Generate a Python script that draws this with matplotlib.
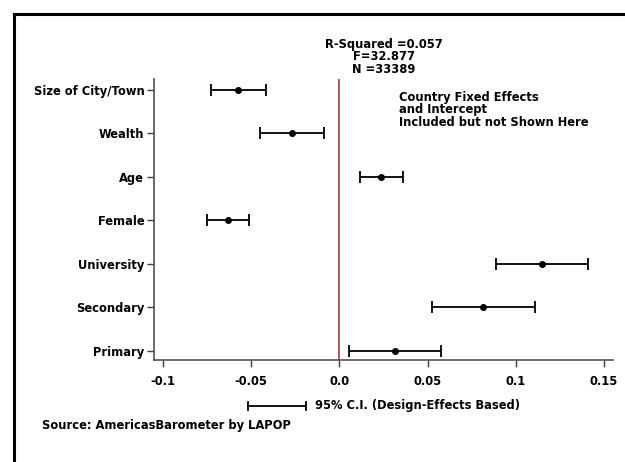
import numpy as np
import matplotlib
matplotlib.use("Agg")
import matplotlib.pyplot as plt
from matplotlib.lines import Line2D

plt.rcParams['font.family'] = ['DejaVu Sans']
plt.rcParams['font.weight'] = 'bold'

# coefficients and 95% CIs
labels = ['Primary', 'Secondary', 'University', 'Female', 'Age', 'Wealth', 'Size of City/Town']
coef = [0.0313, 0.0813, 0.1148, -0.0630, 0.0233, -0.0267, -0.0574]
ci_low = [0.0057, 0.0523, 0.0886, -0.0750, 0.0114, -0.0449, -0.0727]
ci_high = [0.0574, 0.1108, 0.1409, -0.0511, 0.0358, -0.0085, -0.0415]
xticks = [-0.1, -0.05, 0.0, 0.05, 0.1, 0.15]
xticklabels = ['-0.1', '-0.05', '0.0', '0.05', '0.1', '0.15']
stats_text = 'R-Squared =0.057\nF=32.877\nN =33389'
note_text = 'Country Fixed Effects\nand Intercept\nIncluded but not Shown Here'

fs = 8.3
fig = plt.figure(figsize=(6.25, 4.62), dpi=100)
ax = fig.add_axes([0.2464, 0.2208, 0.7344, 0.6082])

y = np.arange(len(labels))
coef = np.array(coef)
err = [coef - np.array(ci_low), np.array(ci_high) - coef]
ax.errorbar(coef, y, xerr=err, fmt='o', color='black', ms=4,
            elinewidth=1.3, capsize=4, capthick=1.3)
ax.axvline(0, color='#a03c46', lw=1.2)

ax.set_xlim(-0.1051, 0.1551)
ax.set_ylim(-0.21, 6.25)
ax.set_yticks(y)
ax.set_yticklabels(labels, fontsize=fs, fontweight='bold')
ax.set_xticks(xticks)
ax.set_xticklabels(xticklabels, fontsize=fs, fontweight='bold')
ax.tick_params(axis='both', direction='out', length=5, width=1, color='#404040')
ax.tick_params(axis='x', pad=6)
ax.tick_params(axis='y', pad=2)
for s in ['top', 'right']:
    ax.spines[s].set_visible(False)
for s in ['left', 'bottom']:
    ax.spines[s].set_color('#505050')
    ax.spines[s].set_linewidth(1.2)

fig.text(384 / 625, 1 - 57 / 462, stats_text, ha='center', va='center',
         fontsize=fs, fontweight='bold', linespacing=0.95)
fig.text(399 / 625, 1 - 110 / 462, note_text, ha='left', va='center',
         fontsize=fs, fontweight='bold', linespacing=0.95)

# legend sample for the CI
ly = 1 - 406 / 462
fig.add_artist(Line2D([248 / 625, 306 / 625], [ly, ly], color='black', lw=1.3))
for xx in [248 / 625, 306 / 625]:
    fig.add_artist(Line2D([xx, xx], [ly - 4 / 462, ly + 4 / 462], color='black', lw=1.3))
fig.text(315 / 625, ly, '95% C.I. (Design-Effects Based)', ha='left', va='center',
         fontsize=fs, fontweight='bold')

fig.text(42 / 625, 1 - 425 / 462, 'Source: AmericasBarometer by LAPOP', ha='left',
         va='center', fontsize=fs, fontweight='bold')

# frame lines (left and top)
fig.add_artist(Line2D([14 / 625, 14 / 625], [0, 1 - 14 / 462], color='black', lw=2.2))
fig.add_artist(Line2D([14 / 625, 1], [1 - 14 / 462, 1 - 14 / 462], color='black', lw=2.2))

fig.savefig('out.png', dpi=100)
